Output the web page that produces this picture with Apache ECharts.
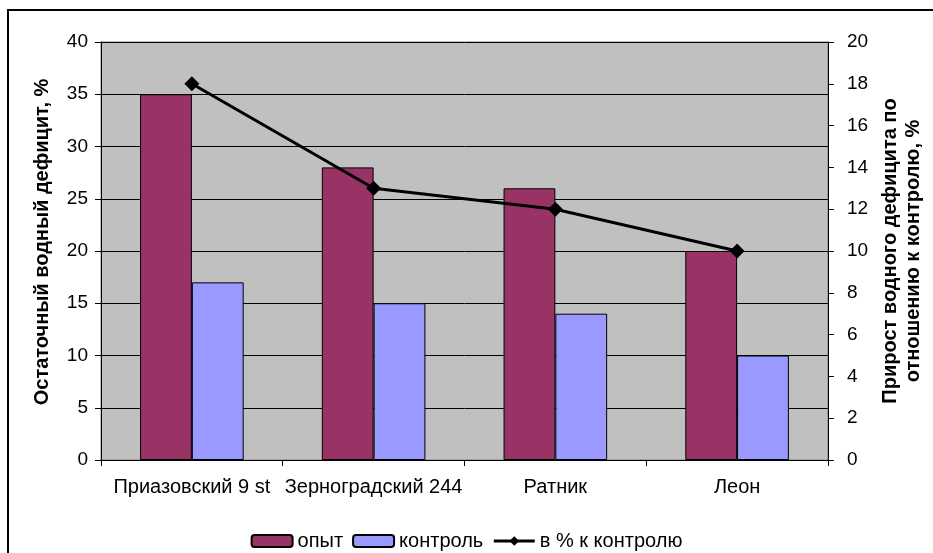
<!DOCTYPE html>
<html>
<head>
<meta charset="utf-8">
<script src="https://cdn.jsdelivr.net/npm/echarts@6/dist/echarts.min.js"></script>
<style>
  html, body { margin: 0; padding: 0; background: #fff; }
  #chart { width: 933px; height: 553px; }
</style>
</head>
<body>
<div id="chart"></div>
<script>
// Varieties and measured values
const categories = ['Приазовский 9 st', 'Зерноградский 244', 'Ратник', 'Леон'];
const experiment = [35, 28, 26, 20];   // опыт, %
const control = [17, 15, 14, 10];      // контроль, %
const gainVsControl = [18, 13, 12, 10]; // в % к контролю
const leftTicks = { min: 0, max: 40, interval: 5 };
const rightTicks = { min: 0, max: 20, interval: 2 };

const FONT = 'Liberation Sans, Arial, sans-serif';
const chart = echarts.init(document.getElementById('chart'), null, { renderer: 'canvas' });

chart.setOption({
  animation: false,
  backgroundColor: '#fff',
  textStyle: { fontFamily: FONT, color: '#000' },
  graphic: [{
    type: 'rect',
    shape: { x: 8, y: 10, width: 1000, height: 1000 },
    style: { fill: 'none', stroke: '#000', lineWidth: 2 },
    silent: true, z: -1
  }],
  grid: {
    left: 101, right: 104, top: 42, bottom: 93,
    show: true, backgroundColor: '#C0C0C0', borderColor: '#808080', borderWidth: 1
  },
  legend: {
    top: 526, left: 'center',
    itemWidth: 41, itemHeight: 12, itemGap: 9,
    lineStyle: { width: 3 },
    textStyle: { fontFamily: FONT, fontSize: 20, color: '#000' },
    data: ['опыт', 'контроль', 'в % к контролю']
  },
  xAxis: {
    type: 'category',
    data: categories,
    boundaryGap: true,
    axisLine: { lineStyle: { color: '#000', width: 1 } },
    axisTick: { show: true, length: 6, lineStyle: { color: '#000' } },
    axisLabel: { fontSize: 20, color: '#000', margin: 17, fontFamily: FONT, interval: 0 }
  },
  yAxis: [{
    type: 'value',
    min: leftTicks.min, max: leftTicks.max, interval: leftTicks.interval,
    name: 'Остаточный водный дефицит, %',
    nameLocation: 'middle', nameRotate: 90, nameGap: 49,
    nameTextStyle: { fontSize: 20, fontWeight: 'bold', color: '#000', fontFamily: FONT, padding: [0, 0, 0, 18] },
    axisLine: { show: true, lineStyle: { color: '#000' } },
    axisTick: { show: true, length: 6, lineStyle: { color: '#000' } },
    axisLabel: { fontSize: 19, color: '#000', margin: 13, fontFamily: FONT },
    splitLine: { show: true, lineStyle: { color: '#000', width: 1 } }
  }, {
    type: 'value',
    position: 'right',
    min: rightTicks.min, max: rightTicks.max, interval: rightTicks.interval,
    name: 'Прирост водного дефицита по\nотношению к контролю, %',
    nameLocation: 'middle', nameRotate: 90, nameGap: 50,
    nameTextStyle: { fontSize: 20, fontWeight: 'bold', color: '#000', fontFamily: FONT, lineHeight: 23 },
    axisLine: { show: true, lineStyle: { color: '#000' } },
    axisTick: { show: true, length: 6, lineStyle: { color: '#000' } },
    axisLabel: { fontSize: 19, color: '#000', margin: 19, fontFamily: FONT },
    splitLine: { show: false }
  }],
  series: [{
    name: 'опыт',
    type: 'bar',
    yAxisIndex: 0,
    data: experiment,
    barGap: '0%',
    barCategoryGap: '43%',
    itemStyle: { color: '#993366', borderColor: '#000', borderWidth: 1 }
  }, {
    name: 'контроль',
    type: 'bar',
    yAxisIndex: 0,
    data: control,
    barGap: '0%',
    barCategoryGap: '43%',
    itemStyle: { color: '#9999FF', borderColor: '#000', borderWidth: 1 }
  }, {
    name: 'в % к контролю',
    type: 'line',
    yAxisIndex: 1,
    data: gainVsControl,
    symbol: 'diamond',
    symbolSize: 15,
    lineStyle: { color: '#000', width: 3 },
    itemStyle: { color: '#000' },
    z: 5
  }]
});
</script>
</body>
</html>
